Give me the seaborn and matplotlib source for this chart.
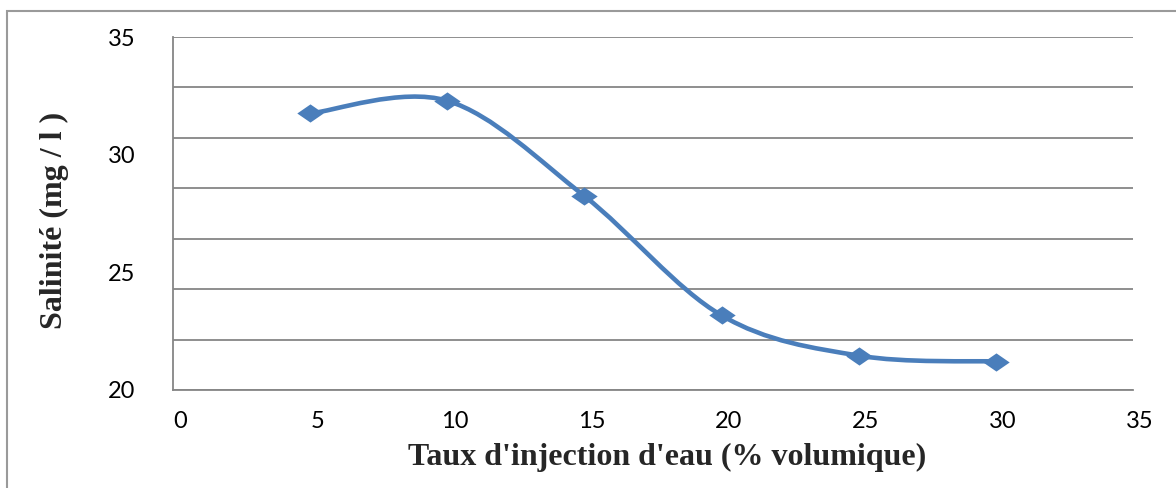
import numpy as np
import pandas as pd
import seaborn as sns
import matplotlib
matplotlib.use("Agg")
import matplotlib.pyplot as plt
from matplotlib.path import Path
from matplotlib.patches import PathPatch, Rectangle
from matplotlib.markers import MarkerStyle
import matplotlib.transforms as mtransforms

# ---- data ----
taux = [5, 10, 15, 20, 25, 30]
salinite = [31.75, 32.29, 28.24, 23.17, 21.46, 21.21]
x_ticks = [0, 5, 10, 15, 20, 25, 30, 35]
y_ticks = [20, 25, 30, 35]
x_label = "Taux d'injection d'eau (% volumique)"
y_label = "Salinité (mg / l )"

df = pd.DataFrame({"taux": taux, "salinite": salinite})

sns.set_theme(style="white")
plt.rcParams["font.family"] = ["Lato", "DejaVu Sans"]

LINE = "#4A7EBB"
GRID = "#868686"

fig = plt.figure(figsize=(11.76, 4.88), dpi=100)
ax = fig.add_axes([173 / 1176, 1 - 390 / 488, 960 / 1176, 353 / 488])

# smooth line (Excel-like cubic Bezier through the data points)
pts = np.column_stack([df["taux"].to_numpy(float), df["salinite"].to_numpy(float)])
n = len(pts)
verts = [tuple(pts[0])]
codes = [Path.MOVETO]
for i in range(n - 1):
    p0 = pts[i - 1] if i > 0 else pts[i]
    p1 = pts[i]
    p2 = pts[i + 1]
    p3 = pts[i + 2] if i + 2 < n else pts[i + 1]
    c1 = p1 + (p2 - p0) / 6.0
    c2 = p2 - (p3 - p1) / 6.0
    verts += [tuple(c1), tuple(c2), tuple(p2)]
    codes += [Path.CURVE4] * 3
ax.add_patch(PathPatch(Path(verts, codes), facecolor="none", edgecolor=LINE,
                       lw=3.3, capstyle="round", joinstyle="round", zorder=3))

diamond = Path([(-1.45, 0), (0, 1), (1.45, 0), (0, -1), (-1.45, 0)],
               [Path.MOVETO, Path.LINETO, Path.LINETO, Path.LINETO, Path.CLOSEPOLY])
sns.scatterplot(data=df, x="taux", y="salinite", ax=ax, marker=MarkerStyle(diamond),
                s=19 ** 2, color=LINE, edgecolor=LINE, linewidth=0, zorder=4)

ax.set_xlim(0, 35)
ax.set_ylim(20, 35)
ax.set_xticks(x_ticks)
ax.set_yticks(y_ticks)
ax.set_xticklabels([str(v) for v in x_ticks])
ax.set_yticklabels([str(v) for v in y_ticks])

# gridlines (7 equal divisions)
ax.yaxis.remove_overlapping_locs = False
ax.set_yticks(np.linspace(20, 35, 8), minor=True)
ax.yaxis.grid(True, which="minor", color=GRID, lw=1.3)
ax.yaxis.grid(False, which="major")
ax.xaxis.grid(False)
ax.set_axisbelow(True)

for s in ["top", "right"]:
    ax.spines[s].set_visible(False)
for s in ["left", "bottom"]:
    ax.spines[s].set_color(GRID)
    ax.spines[s].set_linewidth(1.3)

ax.tick_params(axis="both", which="both", length=0, labelsize=17, labelcolor="black")
ax.tick_params(axis="y", which="major", pad=27)
ax.tick_params(axis="x", which="major", pad=15)
offset = mtransforms.ScaledTranslation(7 / 100, 0, fig.dpi_scale_trans)
for lab in ax.get_xticklabels():
    lab.set_transform(lab.get_transform() + offset)

ax.set_xlabel(x_label, family="Liberation Serif", fontweight="bold", fontsize=23)
ax.set_ylabel(y_label, family="Liberation Serif", fontweight="bold", fontsize=23)
ax.xaxis.set_label_coords((667 - 173) / 960, (390 - 457) / 353)
ax.xaxis.label.set_va("center")
ax.yaxis.set_label_coords((54 - 173) / 960, (390 - 220) / 353)
ax.yaxis.label.set_va("center")

# outer chart frame
fig.patches.append(Rectangle((7 / 1176, -0.05), 1.2, 1 - 11 / 488 + 0.05,
                             transform=fig.transFigure, fill=False,
                             edgecolor="#9a9a9a", lw=1.5, zorder=0))

fig.savefig("out.png", dpi=100)
